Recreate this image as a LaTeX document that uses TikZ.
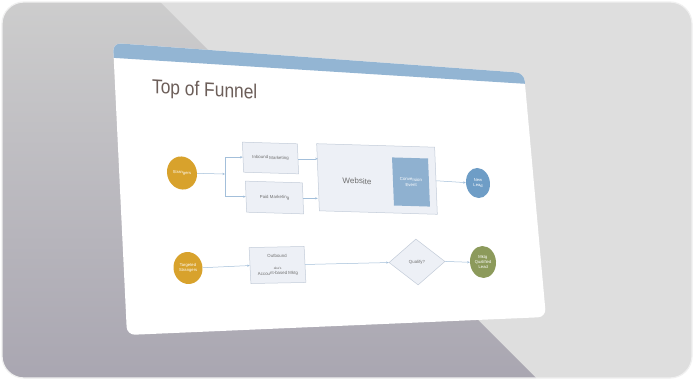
\documentclass[tikz,border=0pt]{standalone}
\usepackage{fontspec}
\setmainfont{Liberation Sans}
\usepackage{tikz}
\usetikzlibrary{arrows.meta,positioning,shapes.geometric}

\definecolor{frameGray}{HTML}{DEDEDE}
\definecolor{shadeTop}{HTML}{CDCDCD}
\definecolor{shadeBot}{HTML}{A9A6B1}
\definecolor{bandBlue}{HTML}{93B5D3}
\definecolor{titleBrown}{HTML}{6C5E59}
\definecolor{boxFill}{HTML}{EDF0F6}
\definecolor{boxLine}{HTML}{C3CCD9}
\definecolor{gold}{HTML}{D8A22C}
\definecolor{leadBlue}{HTML}{6E9DC6}
\definecolor{convBlue}{HTML}{8FB1D0}
\definecolor{olive}{HTML}{8C9A5B}
\definecolor{flowLine}{HTML}{A3BFDA}
\definecolor{labelGray}{HTML}{6E6E6E}

\newcommand\smallnote{\fontsize{3.3}{4}\selectfont}

\begin{document}
\begin{tikzpicture}[x=1pt, y=-1pt,
  box/.style={draw=boxLine, fill=boxFill, line width=0.5pt, inner sep=0pt, align=center, text=labelGray, font=\fontsize{4.4}{5.2}\selectfont},
  leadnode/.style={ellipse, inner sep=0pt, align=center, text=white, font=\fontsize{4.2}{5}\selectfont},
  top row/.style={rotate=-1.7, xslant=-0.07},
  low row/.style={rotate=1.1, xslant=-0.03},
  arrow/.style={-{Stealth[length=2.6pt,width=2.2pt]}, draw=flowLine, line width=0.5pt},
  link/.style={draw=flowLine, line width=0.5pt}
]
\useasboundingbox (0,0) rectangle (694,380);

% backdrop
\fill[white] (0,0) rectangle (694,380);
\begin{scope}
  \clip[rounded corners=22] (2,2) rectangle (692,378);
  \fill[frameGray] (0,0) rectangle (694,380);
  \shade[top color=shadeTop, bottom color=shadeBot] (0,0) -- (158,0) -- (538,380) -- (0,380) -- cycle;
\end{scope}
\draw[rounded corners=22, draw=gray!12, line width=1.2pt] (2,2) rectangle (692,378);

% slide
\coordinate (TL) at (113,43);
\coordinate (TR) at (524,73);
\coordinate (BR) at (546,317);
\coordinate (BL) at (127,335);
\fill[white, rounded corners=8] (TL) -- (TR) -- (BR) -- (BL) -- cycle;
\begin{scope}
  \clip[rounded corners=8] (TL) -- (TR) -- (BR) -- (BL) -- cycle;
  \fill[bandBlue] (100,30) -- (560,30) -- (560,86) -- (100,57) -- cycle;
\end{scope}

\node[anchor=base west, text=titleBrown, font=\fontsize{20}{24}\selectfont, xscale=0.87, rotate=-2.8, xslant=-0.05] (title) at (149,93) {Top of Funnel};

% top row
\node[leadnode, top row, fill=gold, minimum width=30, minimum height=33] (strangers) at (182,173) {Strangers};
\node[box, top row, minimum width=55, minimum height=30] (inbound) at (270.5,158) {Inbound Marketing};
\node[box, top row, minimum width=57, minimum height=31] (paid) at (274.5,197.5) {Paid Marketing};
\node[box, top row, minimum width=118, minimum height=67] (website) at (377,179) {};
\node[top row, text=labelGray, font=\fontsize{8}{9}\selectfont] (weblabel) at (357,181) {Website};
\node[box, top row, fill=convBlue, draw=none, text=white, minimum width=36, minimum height=48] (conversion) at (411,182) {Conversion\\Event};
\node[leadnode, top row, fill=leadBlue, minimum width=24, minimum height=30] (newlead) at (478,183) {New\\Lead};

\coordinate (fork) at (225,174);
\draw[arrow] (strangers) -- (fork);
\draw[link] (fork |- inbound.west) -- (fork |- paid.west);
\draw[arrow] (fork |- inbound.west) -- (inbound.west);
\draw[arrow] (fork |- paid.west) -- (paid.west);
\draw[arrow] (inbound.east) -- (inbound.east -| website.west);
\draw[arrow] (paid.east) -- (paid.east -| website.west);
\draw[arrow] (website.east) -- (newlead.west);

% bottom row
\node[leadnode, low row, fill=gold, minimum width=29, minimum height=32] (targeted) at (188,268) {Targeted\\Strangers};
\node[box, low row, minimum width=55, minimum height=36] (outbound) at (277.5,265) {Outbound\\[7pt]\smallnote aka's\\Account-based Mktg};
\node[box, diamond, low row, minimum width=56, minimum height=46] (qualify) at (417,262) {Qualify?};
\node[leadnode, low row, fill=olive, minimum width=26, minimum height=32] (mql) at (483,262) {Mktg\\Qualified\\Lead};

\draw[arrow] (targeted.east) -- (outbound.west);
\draw[arrow] (outbound.east) -- (qualify.west);
\draw[arrow] (qualify.east) -- (mql.west);

\end{tikzpicture}
\end{document}
